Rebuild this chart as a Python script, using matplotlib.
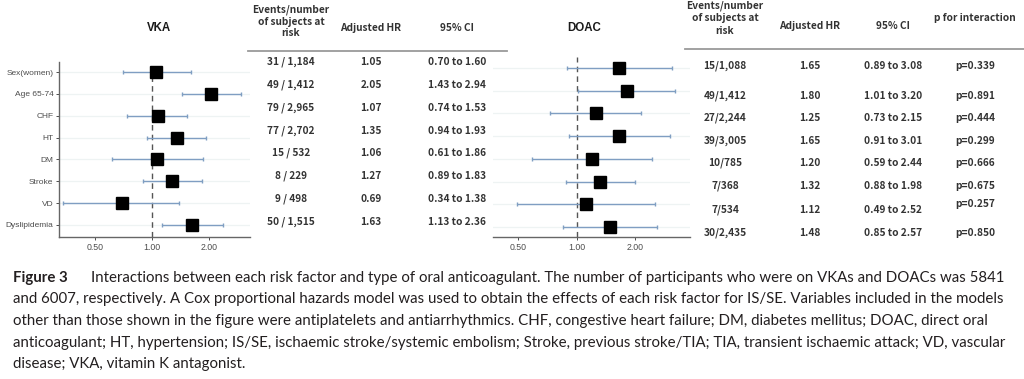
import matplotlib
matplotlib.use("Agg")
import matplotlib.pyplot as plt
import numpy as np

# ---------------- data ----------------
factors = ["Sex(women)", "Age 65-74", "CHF", "HT", "DM", "Stroke", "VD", "Dyslipidemia"]

vka_events = ["31 / 1,184", "49 / 1,412", "79 / 2,965", "77 / 2,702",
              "15 / 532", "8 / 229", "9 / 498", "50 / 1,515"]
vka_hr = [1.05, 2.05, 1.07, 1.35, 1.06, 1.27, 0.69, 1.63]
vka_lo = [0.70, 1.43, 0.74, 0.94, 0.61, 0.89, 0.34, 1.13]
vka_hi = [1.60, 2.94, 1.53, 1.93, 1.86, 1.83, 1.38, 2.36]

doac_events = ["15/1,088", "49/1,412", "27/2,244", "39/3,005",
               "10/785", "7/368", "7/534", "30/2,435"]
doac_hr = [1.65, 1.80, 1.25, 1.65, 1.20, 1.32, 1.12, 1.48]
doac_lo = [0.89, 1.01, 0.73, 0.91, 0.59, 0.88, 0.49, 0.85]
doac_hi = [3.08, 3.20, 2.15, 3.01, 2.44, 1.98, 2.52, 2.57]

p_interaction = ["0.339", "0.891", "0.444", "0.299", "0.666", "0.675", "0.257", "0.850"]

x_ticks = [0.5, 1.0, 2.0]
x_tick_labels = ["0.50", "1.00", "2.00"]

caption_lines = [
    "Interactions between each risk factor and type of oral anticoagulant. The number of participants who were on VKAs and DOACs was 5841",
    "and 6007, respectively. A Cox proportional hazards model was used to obtain the effects of each risk factor for IS/SE. Variables included in the models",
    "other than those shown in the figure were antiplatelets and antiarrhythmics. CHF, congestive heart failure; DM, diabetes mellitus; DOAC, direct oral",
    "anticoagulant; HT, hypertension; IS/SE, ischaemic stroke/systemic embolism; Stroke, previous stroke/TIA; TIA, transient ischaemic attack; VD, vascular",
    "disease; VKA, vitamin K antagonist.",
]

# ---------------- layout ----------------
W, H = 1024, 379
fig = plt.figure(figsize=(W / 100, H / 100), dpi=100)


def fx(px):
    return px / W


def fy(py):
    return 1 - py / H


def axes_px(x0, y0, x1, y1):
    return fig.add_axes([fx(x0), fy(y1), fx(x1) - fx(x0), (y1 - y0) / H])


EB_COLOR = "#7f9ec2"
GRID_COLOR = "#eef3f3"
TXT = "#333333"
n = len(factors)
ypos = np.arange(1, n + 1)


def forest(ax, hr, lo, hi, xlim, ylim, show_left):
    hr = np.array(hr); lo = np.array(lo); hi = np.array(hi)
    ax.set_xscale("log", base=2)
    for y in ypos:
        ax.axhline(y, color=GRID_COLOR, lw=0.9, zorder=0)
    ax.axvline(1.0, color="#555555", lw=1.0, dashes=(4, 3), zorder=1)
    ax.errorbar(hr, ypos, xerr=[hr - lo, hi - hr], fmt="none", ecolor=EB_COLOR,
                elinewidth=1.0, capsize=1.6, capthick=1.0, zorder=2)
    ax.plot(hr, ypos, "s", color="black", markersize=9, zorder=3)
    ax.set_xlim(*xlim)
    ax.set_ylim(*ylim)
    ax.set_xticks(x_ticks)
    ax.set_xticklabels(x_tick_labels)
    ax.minorticks_off()
    ax.tick_params(axis="x", labelsize=6.3, colors="#4d4d4d", length=2.5, width=0.7, pad=2)
    for s in ["top", "right"]:
        ax.spines[s].set_visible(False)
    ax.spines["bottom"].set_color("#666666")
    ax.spines["bottom"].set_linewidth(1.0)
    if show_left:
        ax.set_yticks(ypos)
        ax.set_yticklabels(factors, fontfamily="Liberation Sans")
        ax.tick_params(axis="y", labelsize=6.0, colors="#4d4d4d", length=2.5, width=0.7, pad=1.5)
        ax.spines["left"].set_color("#666666")
        ax.spines["left"].set_linewidth(1.0)
    else:
        ax.spines["left"].set_visible(False)
        ax.set_yticks([])
    for lab in ax.get_xticklabels():
        lab.set_fontfamily("Liberation Sans")
    ax.patch.set_alpha(0)


ax1 = axes_px(59, 62, 250, 237)
forest(ax1, vka_hr, vka_lo, vka_hi, (0.322, 3.29), (8.55, 0.54), True)

ax2 = axes_px(493, 57, 690, 237)
forest(ax2, doac_hr, doac_lo, doac_hi, (0.37, 3.82), (8.44, 0.52), False)

# panel titles
fig.text(fx(159), fy(28), "VKA", ha="center", va="center", fontsize=8.3,
         fontweight="bold", family="Liberation Sans", color="#1a1a1a")
fig.text(fx(584), fy(28), "DOAC", ha="center", va="center", fontsize=8.3,
         fontweight="bold", family="Liberation Sans", color="#1a1a1a")

TF = dict(family="Noto Sans CJK JP", fontweight="bold", color=TXT, fontsize=7.3,
          ha="center", va="center")

# table 1 (VKA)
for i, t in enumerate(["Events/number", "of subjects at", "risk"]):
    fig.text(fx(291), fy([10, 22, 33][i]), t, **TF)
fig.text(fx(371), fy(28), "Adjusted HR", **TF)
fig.text(fx(457), fy(28), "95% CI", **TF)
fig.add_artist(plt.Line2D([fx(248), fx(507)], [fy(51), fy(51)], color="#9a9a9a", lw=1.3))
t1_rows = [62, 85, 108, 131, 153, 176, 199, 222]
for i in range(n):
    y = fy(t1_rows[i])
    fig.text(fx(291), y, vka_events[i], **TF)
    fig.text(fx(371), y, f"{vka_hr[i]:.2f}", **TF)
    fig.text(fx(457), y, f"{vka_lo[i]:.2f} to {vka_hi[i]:.2f}", **TF)

# table 2 (DOAC)
for i, t in enumerate(["Events/number", "of subjects at", "risk"]):
    fig.text(fx(725), fy([6, 18, 31][i]), t, **TF)
fig.text(fx(810), fy(26), "Adjusted HR", **TF)
fig.text(fx(893), fy(26), "95% CI", **TF)
fig.text(fx(975), fy(18), "p for interaction", **TF)
fig.add_artist(plt.Line2D([fx(685), fx(1024)], [fy(49), fy(49)], color="#9a9a9a", lw=1.3))
t2_rows = [66, 96, 118, 141, 163, 186, 210, 233]
p_rows = [66, 96, 118, 141, 163, 186, 204, 233]
for i in range(n):
    y = fy(t2_rows[i])
    fig.text(fx(725), y, doac_events[i], **TF)
    fig.text(fx(810), y, f"{doac_hr[i]:.2f}", **TF)
    fig.text(fx(893), y, f"{doac_lo[i]:.2f} to {doac_hi[i]:.2f}", **TF)
    fig.text(fx(975), fy(p_rows[i]), "p=" + p_interaction[i], **TF)

# caption
CAP = dict(family="Lato", color="#231f20", va="baseline", ha="left")
baselines = [282, 303.5, 325, 346.5, 368]
cap_size = 11.5
fig.text(fx(13), fy(baselines[0]), "Figure 3", fontweight="bold", fontsize=cap_size, **CAP)
caps = []
for i, line in enumerate(caption_lines):
    x0 = 91 if i == 0 else 13
    caps.append(fig.text(fx(x0), fy(baselines[i]), line, fontsize=cap_size, **CAP))

# fit caption size so the first line ends where the reference does
fig.canvas.draw()
r = fig.canvas.get_renderer()
bb = caps[0].get_window_extent(r)
scale = (1009 - 91) / bb.width
for t in fig.texts:
    if t.get_fontfamily() and t.get_fontfamily()[0] == "Lato":
        t.set_fontsize(cap_size * scale)

fig.savefig("out.png", dpi=100)
